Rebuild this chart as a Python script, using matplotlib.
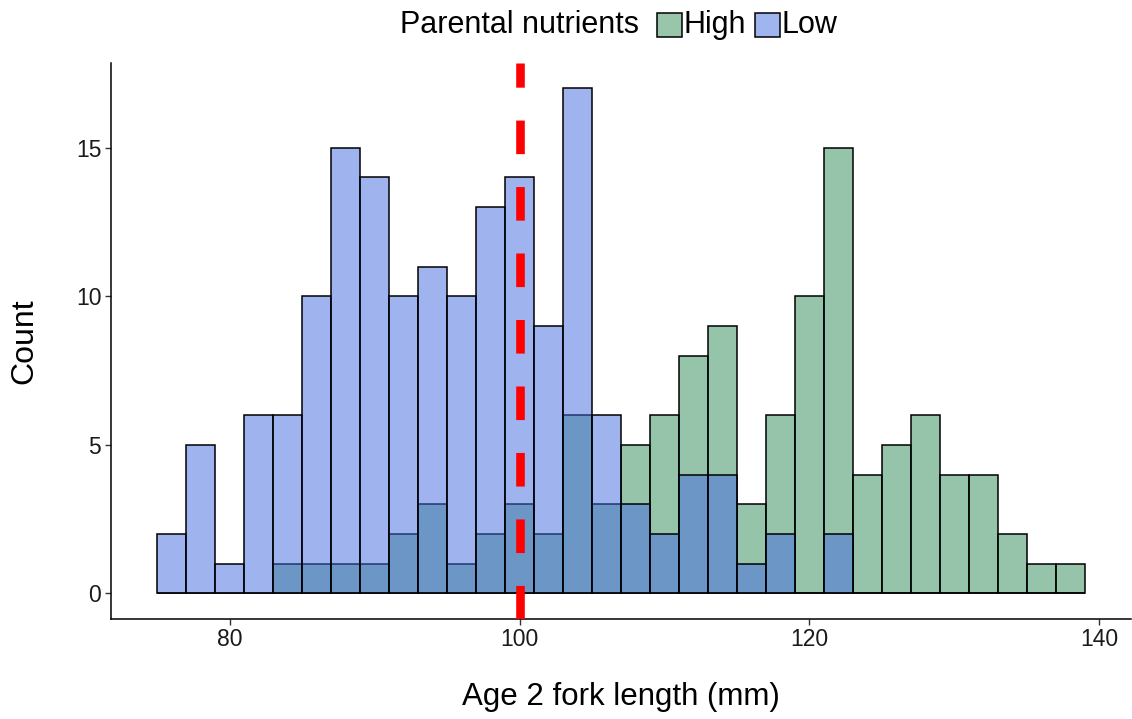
import matplotlib.pyplot as plt
from matplotlib.patches import Rectangle
import numpy as np

plt.rcParams['font.family'] = ['Liberation Sans', 'DejaVu Sans']

# histogram bins (fork length, mm)
bin_start = 75
bin_width = 2
high_counts = [0, 0, 0, 0, 1, 1, 1, 1, 2, 3, 1, 2, 3, 2, 6, 3,
               5, 6, 8, 9, 3, 6, 10, 15, 4, 5, 6, 4, 4, 2, 1, 1]
low_counts = [2, 5, 1, 6, 6, 10, 15, 14, 10, 11, 10, 13, 14, 9, 17, 6,
              3, 2, 4, 4, 1, 2, 0, 2, 0, 0, 0, 0, 0, 0, 0, 0]
groups = ["High", "Low"]
mean_line = 100
x_ticks = [80, 100, 120, 140]
y_ticks = [0, 5, 10, 15]

alpha = 0.5

centers = bin_start + bin_width / 2 + bin_width * np.arange(len(high_counts))

fig = plt.figure(figsize=(11.32, 7.19), dpi=100)
ax = fig.add_axes([0.0981, 0.1396, 0.901, 0.7727])

ax.bar(centers, high_counts, width=bin_width,
       facecolor=(0.18, 0.545, 0.341, alpha), edgecolor="black", linewidth=1.1, zorder=2)
ax.bar(centers, low_counts, width=bin_width,
       facecolor=(0.255, 0.412, 0.882, alpha), edgecolor="black", linewidth=1.1, zorder=3)

ax.axvline(mean_line, color="red", linewidth=6.2, linestyle=(0, (3.9, 3.82)),
           zorder=4, dash_capstyle="butt")

ax.set_xlim(71.8, 142.2)
ax.set_ylim(-0.85, 17.85)
ax.set_xticks(x_ticks)
ax.set_yticks(y_ticks)
ax.tick_params(axis="both", labelsize=16.5, colors="#333333", length=4, width=1, pad=3)
ax.tick_params(labelcolor="#1a1a1a")
for s in ["top", "right"]:
    ax.spines[s].set_visible(False)
for s in ["left", "bottom"]:
    ax.spines[s].set_linewidth(1.1)
    ax.spines[s].set_color("black")

ax.set_xlabel("Age 2 fork length (mm)", fontsize=22.5, labelpad=22)
ax.set_ylabel("Count", fontsize=23, labelpad=26)

# legend on top: title followed by keys
fig.text(400 / 1132, 1 - 25 / 719, "Parental nutrients", fontsize=22,
         ha="left", va="center")
key_cols = ["#99c5ab", "#a0b4f0"]
key_x = [657, 755]
text_x = [684, 782]
for g, kc, kx, tx in zip(groups, key_cols, key_x, text_x):
    fig.patches.append(Rectangle((kx / 1132, 1 - 37 / 719), 25 / 1132, 24 / 719,
                                 transform=fig.transFigure, facecolor=kc,
                                 edgecolor="black", linewidth=1.1))
    fig.text(tx / 1132, 1 - 25 / 719, g, fontsize=22, ha="left", va="center")

fig.savefig("out.png", dpi=100, facecolor="white")
plt.close(fig)
